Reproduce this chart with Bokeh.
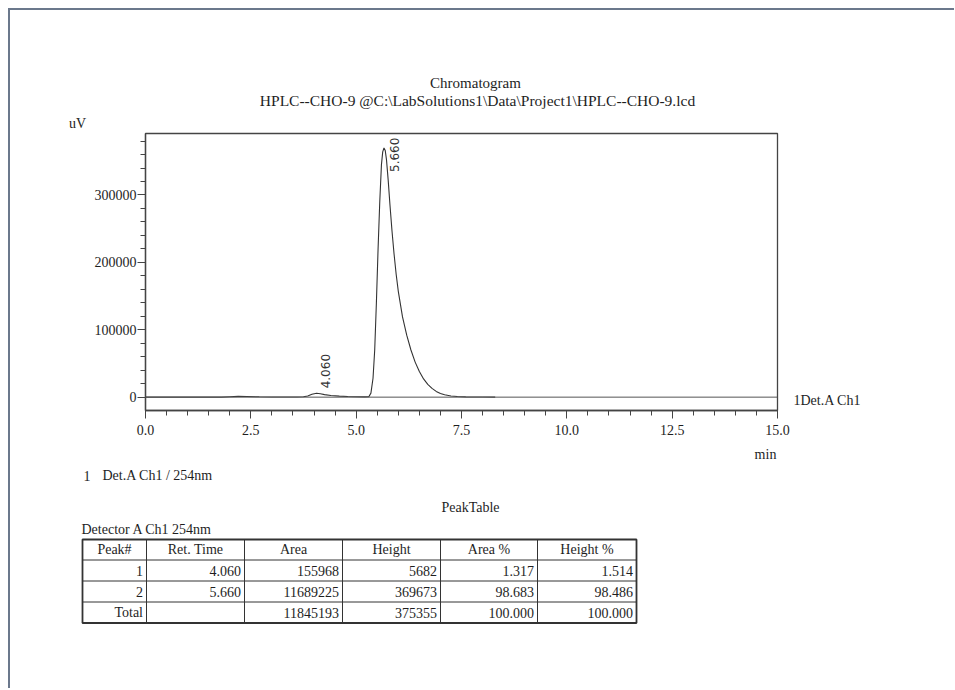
import math
import numpy as np
from bokeh.plotting import figure
from bokeh.models import Range1d, FixedTicker, ColumnDataSource, NumeralTickFormatter, Span
from bokeh.layouts import column, row
from bokeh.embed import file_html
from bokeh.resources import INLINE
from bokeh.core.properties import value

# ---------------- data ----------------
time_min = [0.00, 1.80, 2.00, 2.20, 2.40, 2.70, 3.00, 3.60,
            3.75, 3.85, 3.95, 4.06, 4.15, 4.25, 4.40, 4.60, 4.80, 5.00,
            5.20, 5.30, 5.35, 5.40, 5.44, 5.48, 5.52, 5.56, 5.60, 5.63,
            5.66, 5.69, 5.72, 5.76, 5.80, 5.85, 5.90, 5.95, 6.00, 6.10,
            6.20, 6.30, 6.40, 6.50, 6.60, 6.70, 6.80, 6.90, 7.00, 7.10,
            7.25, 7.40, 7.60, 8.00, 8.30]
signal_uv = [0, 0, 600, 1100, 900, 500, 300, 250,
             500, 1800, 4300, 5682, 5000, 3800, 2500, 1500, 900, 500,
             350, 600, 6000, 28000, 70000, 140000, 220000, 290000, 345000, 364000,
             369673, 366000, 352000, 322000, 287000, 247000, 212000, 182000, 157000, 119000,
             92000, 70000, 52000, 38000, 27000, 19000, 13000, 8500, 5500, 3500,
             1800, 900, 400, 150, 0]

peak_no = [1, 2]
ret_time = [4.060, 5.660]
peak_area = [155968, 11689225]
peak_height = [5682, 369673]
area_pct = [1.317, 98.683]
height_pct = [1.514, 98.486]
total_area = 11845193
total_height = 375355
total_area_pct = 100.000
total_height_pct = 100.000

x_ticks = [0.0, 2.5, 5.0, 7.5, 10.0, 12.5, 15.0]
y_ticks = [0, 100000, 200000, 300000]
table_headers = ["Peak#", "Ret. Time", "Area", "Height", "Area %", "Height %"]

title_1 = "Chromatogram"
title_2 = "HPLC--CHO-9 @C:\\LabSolutions1\\Data\\Project1\\HPLC--CHO-9.lcd"
y_unit = "uV"
x_unit = "min"
trace_name = "1Det.A Ch1"
legend_no = "1"
legend_text = "Det.A Ch1 / 254nm"
table_title = "PeakTable"
detector_text = "Detector A Ch1 254nm"

# ---------------- style ----------------
SERIF = "Liberation Serif"
INK = "#1e1e1e"
AXC = "#444444"
FRAME_COL = "#6b788c"
RIGHT_EDGE = 954


def no_align(f):
    try:
        f.frame_align = False
    except Exception:
        pass


def canvas_fig(x0, x1, y0, y1):
    """A plain figure whose data units are page pixels (y downwards)."""
    f = figure(width=x1 - x0, height=y1 - y0, x_range=Range1d(x0, x1), y_range=Range1d(y1, y0),
               x_axis_type=None, y_axis_type=None, min_border=0,
               output_backend="svg", toolbar_location=None)
    f.outline_line_color = None
    f.background_fill_color = "white"
    f.border_fill_color = "white"
    no_align(f)
    return f


def put(f, px, py, s, align="left", size="14px", font=SERIF):
    f.text(x=[px], y=[py], text=[s], text_font=value(font), text_font_size=size,
           text_align=align, text_baseline="middle", text_color=INK)


# ---------------- top band: titles ----------------
top = canvas_fig(10, RIGHT_EDGE, 10, 131)
put(top, 475, 82, title_1, "center", "15px")
put(top, 477, 100, title_2, "center", "15.5px")
put(top, 77, 123, y_unit, "center")

# ---------------- chromatogram figure ----------------
p = figure(width=781, height=313, output_backend="svg", toolbar_location=None,
           x_range=Range1d(0, 15), y_range=Range1d(-19800, 391200),
           min_border_left=135, min_border_right=14,
           min_border_top=2, min_border_bottom=34)
no_align(p)
p.grid.visible = False
p.outline_line_color = AXC
p.outline_line_width = 1.3
p.background_fill_color = "white"
p.border_fill_color = "white"

p.xaxis.ticker = FixedTicker(ticks=x_ticks, minor_ticks=list(np.arange(0, 15.01, 0.5)))
p.yaxis.ticker = FixedTicker(ticks=y_ticks, minor_ticks=list(range(-20000, 400001, 20000)))
p.xaxis.formatter = NumeralTickFormatter(format="0.0")
p.yaxis.formatter = NumeralTickFormatter(format="0")
for ax in (p.xaxis[0], p.yaxis[0]):
    ax.major_tick_out = 8
    ax.major_tick_in = 0
    ax.minor_tick_out = 5
    ax.minor_tick_in = 0
    ax.axis_line_color = AXC
    ax.axis_line_width = 1.3
    ax.major_tick_line_color = AXC
    ax.minor_tick_line_color = AXC
    ax.major_label_text_font = SERIF
    ax.major_label_text_font_size = "14px"
    ax.major_label_text_color = INK
p.yaxis.major_label_standoff = 1
p.xaxis.major_label_standoff = 6

p.add_layout(Span(location=0, dimension="width", line_color="#555555", line_width=1))
p.line(time_min, signal_uv, line_color="#333333", line_width=1.1)

lbl_src = ColumnDataSource(dict(
    x=ret_time, y=peak_height, text=[f"{t:.3f}" for t in ret_time],
    dx=[9, 10.5], dy=[-5, 24]))
p.text(x="x", y="y", text="text", source=lbl_src, angle=math.pi / 2,
       x_offset="dx", y_offset="dy", text_font=value("DejaVu Sans"),
       text_font_size="12px", text_align="left", text_baseline="middle",
       text_color="#333333")

# ---------------- right band: trace name ----------------
right = canvas_fig(791, RIGHT_EDGE, 131, 444)
put(right, 793, 400, trace_name)

# ---------------- bottom band: legend + peak table ----------------
bot = canvas_fig(10, RIGHT_EDGE, 444, 688)
put(bot, 765, 454, x_unit, "center")
put(bot, 83, 475, legend_no)
put(bot, 102, 475, legend_text)
put(bot, 470, 507, table_title, "center")
put(bot, 81, 529, detector_text)

col_x = [82, 146, 244, 342, 440, 537, 636]
row_y = [539, 559.5, 580.5, 601.5, 622.5]

inner_h = row_y[1:-1]
inner_v = col_x[1:-1]
bot.segment(x0=[col_x[0]] * len(inner_h), x1=[col_x[-1]] * len(inner_h), y0=inner_h, y1=inner_h,
            line_color="#333333", line_width=1)
bot.segment(x0=inner_v, x1=inner_v, y0=[row_y[0]] * len(inner_v), y1=[row_y[-1]] * len(inner_v),
            line_color="#333333", line_width=1)
bot.rect(x=[(col_x[0] + col_x[-1]) / 2], y=[(row_y[0] + row_y[-1]) / 2],
         width=[col_x[-1] - col_x[0]], height=[row_y[-1] - row_y[0]],
         fill_color=None, line_color="#333333", line_width=1.8)

hx = [(col_x[i] + col_x[i + 1]) / 2 for i in range(6)]
hy = [(row_y[0] + row_y[1]) / 2] * 6
bot.text(x=hx, y=hy, text=table_headers, text_font=value(SERIF), text_font_size="14px",
         text_align="center", text_baseline="middle", text_color=INK)

rows = []
for i in range(len(peak_no)):
    rows.append([str(peak_no[i]), f"{ret_time[i]:.3f}", str(peak_area[i]), str(peak_height[i]),
                 f"{area_pct[i]:.3f}", f"{height_pct[i]:.3f}"])
rows.append(["Total", "", str(total_area), str(total_height),
             f"{total_area_pct:.3f}", f"{total_height_pct:.3f}"])
bx, by, bt = [], [], []
for r, cells in enumerate(rows):
    yc = (row_y[r + 1] + row_y[r + 2]) / 2
    for c, s in enumerate(cells):
        if s:
            bx.append(col_x[c + 1] - 3.5)
            by.append(yc)
            bt.append(s)
bot.text(x=bx, y=by, text=bt, text_font=value(SERIF), text_font_size="14px",
         text_align="right", text_baseline="middle", text_color=INK)

layout = column(top, row(p, right), bot,
                styles={"margin-left": "8px", "margin-top": "8px",
                        "border-top": f"2px solid {FRAME_COL}",
                        "border-left": f"2px solid {FRAME_COL}"})

open("out.html", "w").write(file_html(layout, INLINE))
